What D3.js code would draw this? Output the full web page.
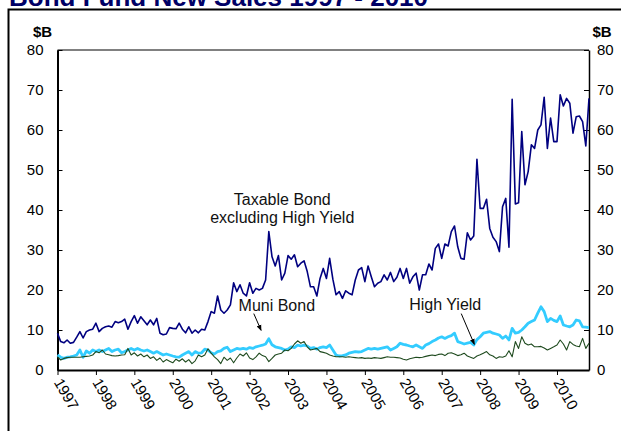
<!DOCTYPE html>
<html>
<head>
<meta charset="utf-8">
<script src="https://cdn.jsdelivr.net/npm/d3@7"></script>
<style>
  body { margin: 0; background: #fff; }
  svg { display: block; }
  text { font-family: "Liberation Sans", Arial, sans-serif; }
</style>
</head>
<body>
<svg id="chart" width="621" height="431"></svg>
<script>
// Monthly new sales, $ billions, January 1997 onward
const years = ["1997","1998","1999","2000","2001","2002","2003","2004","2005","2006","2007","2008","2009","2010"];
const yTicks = [0, 10, 20, 30, 40, 50, 60, 70, 80];

const taxableBond = [
  9.2,7.1,6.8,7.5,6.7,6.9,8.2,9.6,8.0,9.6,
  10.0,10.2,11.7,9.6,10.4,10.8,11.0,10.7,12.1,11.8,
  12.1,12.7,10.2,12.1,13.6,11.7,13.3,12.3,11.3,12.5,
  11.3,12.9,9.2,8.8,9.0,10.6,10.4,10.3,11.7,10.2,
  9.3,10.8,9.2,10.0,9.3,10.2,10.0,12.1,14.6,14.2,
  18.5,15.0,14.2,15.0,16.3,21.8,19.6,21.3,19.2,18.5,
  21.8,19.2,20.4,20.0,20.4,22.5,34.6,28.3,26.0,28.6,
  22.5,24.2,28.6,27.7,28.8,25.8,26.7,27.3,24.6,20.8,
  20.8,18.5,22.9,25.4,22.9,27.9,22.7,18.8,19.6,17.9,
  19.8,19.2,18.8,22.5,25.0,25.6,22.1,26.0,23.3,20.8,
  21.7,22.1,23.8,22.5,24.4,22.1,23.2,25.4,22.9,25.4,
  21.7,23.3,24.2,20.0,23.8,23.8,26.5,25.0,30.4,31.5,
  27.9,31.5,31.0,34.6,36.0,30.8,27.9,27.7,34.3,32.5,
  33.5,52.7,40.4,40.4,42.7,35.4,33.2,32.1,29.6,40.8,
  42.9,30.7,67.7,41.5,41.8,59.6,46.3,49.6,56.3,55.4,
  60.0,61.3,68.2,55.4,63.0,57.1,57.1,68.8,66.0,67.9,
  66.7,59.2,63.3,63.5,62.1,56.0,67.9
];

const muniBond = [
  3.75,3.2,2.9,3.2,3.3,3.5,3.75,5.0,3.2,4.75,
  4.2,5.0,4.6,5.0,4.6,5.0,5.4,4.6,5.0,5.2,
  4.3,4.6,5.0,5.4,5.0,5.4,5.0,4.75,5.0,4.6,
  4.2,4.6,4.2,3.75,4.0,3.75,3.5,3.3,3.2,3.75,
  4.2,4.6,3.75,4.6,4.2,4.3,5.2,5.0,4.3,4.0,
  4.6,4.8,5.4,5.7,4.6,5.0,5.4,5.2,5.4,5.2,
  5.6,5.4,5.8,6.0,6.2,6.5,7.8,6.3,5.8,5.6,
  5.4,5.0,5.2,5.8,5.6,6.2,6.0,6.2,6.0,5.4,
  5.6,5.2,5.6,5.8,5.6,6.25,5.0,3.75,3.5,3.6,
  3.75,4.2,4.4,4.6,4.5,4.6,5.0,5.4,5.2,5.4,
  5.2,5.4,5.6,5.8,5.0,5.4,5.8,6.7,6.4,6.25,
  6.0,5.8,6.25,5.8,5.4,6.25,6.6,7.1,7.5,8.0,
  8.3,7.9,8.3,8.6,9.2,7.1,6.8,6.5,6.7,6.9,
  6.25,7.6,8.3,9.2,9.4,9.6,9.2,9.0,8.75,7.9,
  8.5,7.5,10.4,9.2,9.4,10.0,10.8,11.7,12.1,12.5,
  14.2,15.8,14.6,12.1,12.9,12.4,12.1,13.5,11.25,11.0,
  10.8,11.25,12.5,12.3,10.8,10.7,10.6
];

const highYield = [
  3.3,2.5,2.9,3.1,3.2,3.2,3.2,3.2,3.3,3.4,
  3.5,3.75,4.6,4.3,5.0,4.0,3.8,3.6,3.5,3.6,
  3.75,3.8,5.4,3.75,4.3,3.5,4.0,3.3,3.75,2.9,
  3.3,2.4,3.0,2.0,2.6,2.2,1.8,2.7,2.2,2.8,
  2.0,2.6,1.6,2.3,3.75,3.3,3.75,5.3,4.2,3.3,
  2.6,1.6,3.2,2.4,3.0,1.8,3.0,4.0,3.5,4.3,
  3.0,2.6,3.3,4.2,3.6,3.3,2.1,2.9,3.75,4.0,
  4.2,5.0,4.8,5.4,6.5,7.3,6.7,7.1,5.8,5.0,
  5.2,5.4,4.6,4.4,4.2,3.75,3.5,3.3,3.3,3.3,
  3.2,3.3,3.2,3.1,3.0,3.1,2.9,3.0,2.9,3.1,
  3.0,2.9,3.1,3.3,3.2,3.2,3.1,3.0,2.7,2.5,
  2.8,3.0,3.2,3.1,3.2,3.4,3.6,3.75,3.6,3.9,
  4.0,3.6,4.2,4.3,4.0,3.6,3.8,4.2,3.5,3.2,
  2.9,3.5,3.8,4.2,4.6,3.8,3.5,2.9,3.3,3.2,
  3.5,4.8,3.3,7.1,5.4,8.3,6.7,6.25,6.5,5.8,
  5.8,5.9,5.5,5.0,5.4,5.8,6.25,7.5,6.5,5.0,
  7.1,6.4,6.0,5.8,7.9,5.4,6.7
];

// Callout labels placed in data units (month index, $B)
const callouts = [
  { lines: ["Taxable Bond", "excluding High Yield"], at: [70.2, 41.3], arrow: null },
  { lines: ["Muni Bond"], at: [68.5, 14.7], arrow: [[61.3, 14.1], [63.6, 9.9]] },
  { lines: ["High Yield"], at: [121.1, 14.9], arrow: [[126.1, 14.1], [130.2, 6.4]] }
];

const svg = d3.select("#chart");
const plotLeft = 57.5, plotRight = 589, plotTop = 50, plotBottom = 370;

const x = d3.scaleLinear().domain([0, taxableBond.length - 1]).range([plotLeft, plotRight]);
const y = d3.scaleLinear().domain([0, 80]).range([plotBottom, plotTop]);

// Outer frame and heading
svg.append("rect").attr("x", 8.5).attr("y", 9.5).attr("width", 640).attr("height", 440)
  .attr("fill", "none").attr("stroke", "#000").attr("stroke-width", 2);
svg.append("text").attr("x", 9).attr("y", 6)
  .attr("font-size", 26).attr("font-weight", "bold").attr("fill", "#000066")
  .text("Bond Fund New Sales 1997 - 2010");

// Plot area border (top edge is grey)
svg.append("line").attr("x1", plotLeft).attr("x2", plotRight).attr("y1", plotTop).attr("y2", plotTop)
  .attr("stroke", "#808080").attr("stroke-width", 2);

// Left axis
const yLeft = d3.axisLeft(y).tickValues(yTicks).tickSize(-5).tickPadding(14).tickSizeOuter(0);
const gl = svg.append("g").attr("transform", `translate(${plotLeft},0)`).call(yLeft);
gl.select(".domain").attr("stroke", "#000").attr("stroke-width", 2);
gl.selectAll(".tick line").attr("stroke", "#000").attr("stroke-width", 1);
gl.selectAll(".tick text").attr("font-size", 15).attr("fill", "#000")
  .attr("font-family", "'Liberation Sans', Arial, sans-serif");

// Right axis
const yRight = d3.axisRight(y).tickValues(yTicks).tickSize(-5).tickPadding(8).tickSizeOuter(0);
const gr = svg.append("g").attr("transform", `translate(${plotRight},0)`).call(yRight);
gr.select(".domain").attr("stroke", "#000").attr("stroke-width", 1.5);
gr.selectAll(".tick line").attr("stroke", "#000").attr("stroke-width", 1);
gr.selectAll(".tick text").attr("font-size", 15).attr("fill", "#000")
  .attr("font-family", "'Liberation Sans', Arial, sans-serif");

// Unit labels
svg.append("text").attr("x", 42.5).attr("y", 37).attr("text-anchor", "middle")
  .attr("font-size", 15).attr("font-weight", "bold").text("$B");
svg.append("text").attr("x", 602).attr("y", 37).attr("text-anchor", "middle")
  .attr("font-size", 15).attr("font-weight", "bold").text("$B");

// Bottom axis with year ticks at each January
const yearIdx = years.map((_, k) => k * 12);
const xAxis = d3.axisBottom(x).tickValues(yearIdx).tickSize(5).tickSizeOuter(0).tickFormat((d, k) => years[k]);
const gx = svg.append("g").attr("transform", `translate(0,${plotBottom})`).call(xAxis);
gx.select(".domain").attr("stroke", "#000").attr("stroke-width", 2);
gx.selectAll(".tick line").attr("stroke", "#000").attr("stroke-width", 1);
gx.selectAll(".tick text")
  .attr("font-size", 15).attr("fill", "#000")
  .attr("font-family", "'Liberation Sans', Arial, sans-serif")
  .attr("text-anchor", "start")
  .attr("x", 0).attr("y", 0).attr("dy", "0.35em")
  .attr("transform", "translate(0,9.5) rotate(60)");

// Series lines
const line = d3.line().x((d, i) => x(i)).y(d => y(d));
svg.append("path").datum(muniBond).attr("d", line)
  .attr("fill", "none").attr("stroke", "#33CCFF").attr("stroke-width", 2.8).attr("stroke-linejoin", "round");
svg.append("path").datum(highYield).attr("d", line)
  .attr("fill", "none").attr("stroke", "#1E4A1E").attr("stroke-width", 1.1).attr("stroke-linejoin", "round");
svg.append("path").datum(taxableBond).attr("d", line)
  .attr("fill", "none").attr("stroke", "#000080").attr("stroke-width", 1.6).attr("stroke-linejoin", "round");

// Callouts
const defs = svg.append("defs");
defs.append("marker").attr("id", "head").attr("viewBox", "0 0 10 10")
  .attr("refX", 9).attr("refY", 5).attr("markerWidth", 6).attr("markerHeight", 6)
  .attr("orient", "auto").append("path").attr("d", "M0,1 L10,5 L0,9 Z").attr("fill", "#000");

callouts.forEach(c => {
  const t = svg.append("text").attr("text-anchor", "middle").attr("font-size", 16).attr("fill", "#111");
  c.lines.forEach((s, k) => {
    t.append("tspan").attr("x", x(c.at[0])).attr("y", y(c.at[1]) + k * 18.5).text(s);
  });
  if (c.arrow) {
    svg.append("line")
      .attr("x1", x(c.arrow[0][0])).attr("y1", y(c.arrow[0][1]))
      .attr("x2", x(c.arrow[1][0])).attr("y2", y(c.arrow[1][1]))
      .attr("stroke", "#000").attr("stroke-width", 1).attr("marker-end", "url(#head)");
  }
});
</script>
</body>
</html>
